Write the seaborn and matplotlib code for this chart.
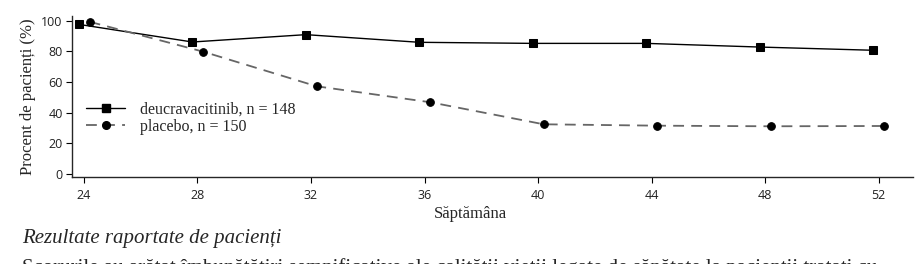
import pandas as pd
import seaborn as sns
import matplotlib.pyplot as plt
from matplotlib.lines import Line2D

weeks = [24, 28, 32, 36, 40, 44, 48, 52]
deucra = [97.6, 86.1, 90.9, 85.9, 85.2, 85.2, 82.8, 80.7]
placebo = [99.3, 79.8, 57.2, 46.8, 32.4, 31.5, 31.1, 31.3]
labels = ['deucravacitinib, n = 148', 'placebo, n = 150']
y_ticks = [0, 20, 40, 60, 80, 100]

df_d = pd.DataFrame({'week': [w - 0.18 for w in weeks], 'pct': deucra})
df_p = pd.DataFrame({'week': [w + 0.2 for w in weeks], 'pct': placebo})

sns.set_style("ticks")
serif = ['Liberation Serif', 'DejaVu Serif']
sans = ['Open Sans', 'DejaVu Sans']

fig = plt.figure(figsize=(9.2, 2.64), dpi=100)
ax = fig.add_axes([0.078, 0.3295, 0.914, 0.6095])

dash = (0, (6, 4))
sns.lineplot(data=df_d, x='week', y='pct', ax=ax, color='black', linewidth=1.0,
             marker='s', markersize=5.5, markeredgecolor='black', markerfacecolor='black')
sns.lineplot(data=df_p, x='week', y='pct', ax=ax, color='#666666', linewidth=1.3,
             linestyle=dash, marker='o', markersize=5.5,
             markeredgecolor='black', markerfacecolor='black')

ax.set_xlim(23.57, 53.2)
ax.set_ylim(-2, 103)
ax.set_xticks(weeks)
ax.set_yticks(y_ticks)
for lab in ax.get_xticklabels() + ax.get_yticklabels():
    lab.set_family(sans)
    lab.set_fontsize(9)
    lab.set_color('#222222')
ax.tick_params(length=4, width=0.8, color='black', pad=2.5)
ax.tick_params(axis='x', pad=4.5)
sns.despine(ax=ax)
ax.spines['left'].set_linewidth(1.0)
ax.spines['bottom'].set_linewidth(1.0)

ax.set_xlabel('Săptămâna', family=serif, fontsize=12)
ax.xaxis.set_label_coords(0.474, -0.18)
ax.set_ylabel('Procent de pacienți (%)', family=serif, fontsize=12, labelpad=4)

handles = [
    Line2D([], [], color='black', linewidth=1.0, marker='s', markersize=5.5),
    Line2D([], [], color='#666666', linewidth=1.3, linestyle=dash,
           marker='o', markersize=5.5, markerfacecolor='black', markeredgecolor='black'),
]
ax.legend(handles, labels, loc='upper left', bbox_to_anchor=(0.017, 0.47), frameon=False,
          prop={'family': serif, 'size': 11.5}, handlelength=2.45, handletextpad=0.9,
          labelspacing=0.1, borderaxespad=0.0, borderpad=0.0)

fig.text(0.024, 0.095, 'Rezultate raportate de pacienți', family=serif, style='italic',
         fontsize=15, va='center', ha='left')
fig.text(0.024, -0.015, 'Scorurile au arătat îmbunătățiri semnificative ale calității vieții '
         'legate de sănătate la pacienții tratați cu',
         family=serif, fontsize=15, va='center', ha='left')

fig.savefig('out.png', dpi=100)
